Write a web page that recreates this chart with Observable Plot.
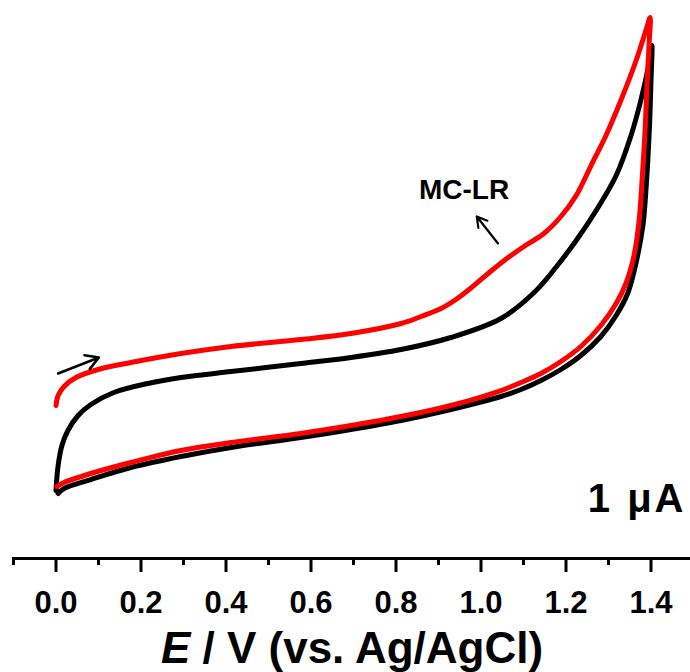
<!DOCTYPE html>
<html>
<head>
<meta charset="utf-8">
<script src="https://cdn.jsdelivr.net/npm/d3@7"></script>
<script src="https://cdn.jsdelivr.net/npm/@observablehq/plot@0.6"></script>
<style>
  html, body { margin: 0; padding: 0; background: #fff; }
  #chart svg { display: block; }
</style>
</head>
<body>
<div id="chart"></div>
<script>
// ---- data (E in V vs. Ag/AgCl, I in µA, relative) ----
const blackE = [0,0.005,0.014,0.028,0.052,0.082,0.136,0.216,0.294,0.412,0.576,0.694,0.812,0.929,1.047,1.125,1.176,1.224,1.271,1.318,1.353,1.376,1.393,1.402,
  1.400,1.396,1.388,1.381,1.365,1.346,1.318,1.282,1.235,1.188,1.141,1.094,1.047,0.929,0.812,0.694,0.576,0.412,0.294,0.176,0.082,0.019,0.005];
const blackI = [0,0.556,1.0,1.333,1.667,1.911,2.178,2.378,2.511,2.644,2.822,2.956,3.133,3.4,3.822,4.4,4.956,5.556,6.222,7.0,7.889,8.667,9.378,9.889,
  9.111,8.0,6.667,5.889,5.067,4.4,3.889,3.422,3.0,2.689,2.444,2.244,2.089,1.8,1.556,1.356,1.178,0.956,0.756,0.511,0.244,0.044,-0.067];
const redE = [0,0.005,0.019,0.047,0.099,0.176,0.294,0.412,0.576,0.694,0.812,0.859,0.906,0.941,0.972,1.0,1.031,1.064,1.101,1.148,1.188,1.224,1.259,1.294,1.329,1.365,1.388,1.398,
  1.396,1.391,1.386,1.379,1.372,1.360,1.341,1.318,1.282,1.235,1.188,1.141,1.094,1.047,0.929,0.812,0.694,0.576,0.412,0.294,0.176,0.082,0.019,0.002];
const redI = [1.889,2.111,2.311,2.511,2.689,2.844,3.044,3.2,3.356,3.489,3.711,3.867,4.044,4.244,4.467,4.689,4.933,5.178,5.422,5.711,6.089,6.556,7.222,7.889,8.667,9.556,10.222,10.511,
  10.0,9.111,8.0,6.889,6.0,5.222,4.6,4.156,3.667,3.2,2.867,2.6,2.4,2.222,1.889,1.644,1.444,1.267,1.067,0.889,0.622,0.378,0.178,0.089];

const majorTicks = [0.0, 0.2, 0.4, 0.6, 0.8, 1.0, 1.2, 1.4];
const minorTicks = [-0.1, 0.1, 0.3, 0.5, 0.7, 0.9, 1.1, 1.3];

// annotations (data coordinates)
const scanArrow = [{x1: 0.005, y1: 2.6, x2: 0.101, y2: 2.956}];
const peakArrow = [{x1: 1.04, y1: 5.49, x2: 0.99, y2: 6.09}];
const peakLabel = [{x: 0.96, y: 6.667, text: "MC-LR"}];
const axisTitle = "E / V (vs. Ag/AgCl)";
const scaleLabel = "1 μA";

const black = blackE.map((e, i) => ({E: e, I: blackI[i]}));
const red = redE.map((e, i) => ({E: e, I: redI[i]}));

const font = "'Liberation Sans', Arial, Helvetica, sans-serif";

const plot = Plot.plot({
  width: 690,
  height: 672,
  marginLeft: 13,
  marginRight: 0,
  marginTop: 0,
  marginBottom: 114,
  style: {fontFamily: font, fontWeight: "bold", background: "#fff", color: "#000"},
  x: {domain: [-0.1, 1.5], range: [13, 693]},
  y: {domain: [-1.511, 10.889], range: [558, 0], axis: null},
  marks: [
    Plot.line(black, {x: "E", y: "I", stroke: "#000", strokeWidth: 5, curve: "catmull-rom"}),
    Plot.line(red, {x: "E", y: "I", stroke: "#ff0000", strokeWidth: 5, curve: "catmull-rom"}),
    Plot.arrow(scanArrow, {x1: "x1", y1: "y1", x2: "x2", y2: "y2", stroke: "#000", strokeWidth: 2.6, headLength: 10, bend: 0}),
    Plot.arrow(peakArrow, {x1: "x1", y1: "y1", x2: "x2", y2: "y2", stroke: "#000", strokeWidth: 2.2, headLength: 10, bend: 0}),
    Plot.text(peakLabel, {x: "x", y: "y", text: "text", fontSize: 28, fontWeight: "bold", textAnchor: "middle", lineAnchor: "middle", fill: "#000"}),
    Plot.text([scaleLabel], {frameAnchor: "bottom-right", textAnchor: "end", lineAnchor: "middle", dx: -4, dy: -59, fontSize: 40, fontWeight: "bold", fill: "#000"}),
    Plot.frame({anchor: "bottom", stroke: "#000", strokeWidth: 3}),
    Plot.axisX({ticks: minorTicks, tickSize: 7, tickFormat: () => "", strokeWidth: 3}),
    Plot.axisX({ticks: majorTicks, tickSize: 14, tickPadding: 18, tickFormat: d3.format(".1f"), fontSize: 31, fontWeight: "bold", strokeWidth: 3, label: null}),
    Plot.text([axisTitle], {frameAnchor: "bottom", textAnchor: "middle", lineAnchor: "middle", dy: 90, fontSize: 44, fontWeight: "bold", fill: "#000"})
  ]
});

document.getElementById("chart").appendChild(plot);

d3.select(plot).selectAll("text").each(function() {
  // italic E in the axis title
  if (this.textContent === axisTitle) {
    const t = d3.select(this);
    t.text(null);
    t.append("tspan").attr("font-style", "italic").text("E");
    t.append("tspan").text(axisTitle.slice(1));
  }
  if (this.textContent === scaleLabel) {
    d3.select(this).attr("letter-spacing", "3px");
  }
});
</script>
</body>
</html>
